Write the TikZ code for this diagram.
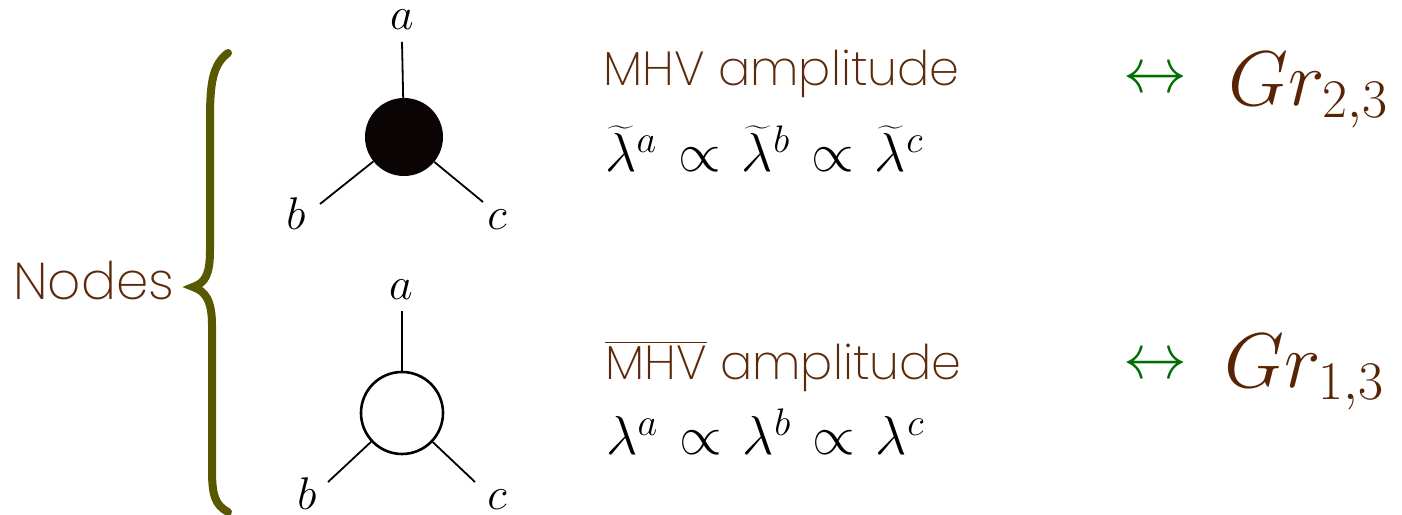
\RequirePackage{fix-cm}
\documentclass[tikz,border=0pt]{standalone}
\usepackage{amsmath}
\usepackage{fontspec}
\newfontfamily\geo{Poppins}[UprightFont=* ExtraLight]
\definecolor{txtbrown}{RGB}{92,42,10}
\definecolor{grbrown}{RGB}{88,36,4}
\definecolor{bracegreen}{RGB}{88,88,0}
\definecolor{arrgreen}{RGB}{0,110,0}
% proportionality sign with a little extra room on each side
\newcommand{\wprop}{\mskip2mu\propto\mskip2mu}
\begin{document}
\begin{tikzpicture}[x=1bp,y=1bp,
  vtx/.style={circle,inner sep=0pt,minimum size=#1},
  leg/.style={line width=1.8bp},
  lbl/.style={anchor=base,inner sep=0pt,font=\fontsize{46}{50}\selectfont},
  words/.style={anchor=base west,inner sep=0pt,text=txtbrown,font=\fontsize{48}{52}\selectfont\geo},
  eqn/.style={anchor=base west,inner sep=0pt,font=\fontsize{55}{60}\selectfont},
  corr/.style={inner sep=0pt,text=arrgreen,font=\fontsize{64}{70}\selectfont},
  grass/.style={anchor=base west,inner sep=0pt,text=grbrown,font=\fontsize{78}{82}\selectfont}]
\fill[white] (0,0) rectangle (1402,515);
\useasboundingbox (0,0) rectangle (1402,515);

% brace
\draw[bracegreen,line width=8bp,line cap=round]
  (228,462) .. controls (212,450) and (210,430) .. (210,395) -- (210,265)
  .. controls (210,240) and (205,232) .. (193,228)
  .. controls (205,224) and (212,215) .. (212,190) -- (212,45)
  .. controls (212,20) and (215,10) .. (228,3);
\node[words,font=\fontsize{52}{56}\selectfont\geo] (nodes) at (13,215) {Nodes};

% black trivalent vertex
\node[vtx=78bp,fill={rgb,255:red,10;green,4;blue,4}] (B) at (404,378) {};
\coordinate (Ba) at (402,473);
\coordinate (Bb) at (320,311);
\coordinate (Bc) at (483,313);
\draw[leg] (Ba) -- (B);
\draw[leg] (Bb) -- (B);
\draw[leg] (Bc) -- (B);
\node[lbl] (la1) at (402,485) {$a$};
\node[lbl] (lb1) at (296,285) {$b$};
\node[lbl] (lc1) at (497,285) {$c$};

% white trivalent vertex
\node[vtx=82bp,draw,line width=2.6bp,fill=white] (W) at (402,102) {};
\coordinate (Wa) at (402,204);
\coordinate (Wb) at (328,33);
\coordinate (Wc) at (475,33);
\draw[leg] (Wa) -- (W);
\draw[leg] (Wb) -- (W);
\draw[leg] (Wc) -- (W);
\node[lbl] (la2) at (401,215) {$a$};
\node[lbl] (lb2) at (307,5) {$b$};
\node[lbl] (lc2) at (497,5) {$c$};

% descriptions
\node[words] (mhv) at (603,429) {MHV amplitude};
\node[eqn] (eq1) at (605,343) {$\widetilde{\lambda}^a\wprop\widetilde{\lambda}^b\wprop\widetilde{\lambda}^c$};
\node[words] (mhvbar) at (605,135) {$\overline{\hbox{\geo MHV}}$ amplitude};
\node[eqn] (eq2) at (606,60) {$\lambda^a\wprop\lambda^b\wprop\lambda^c$};

% Grassmannians
\node[corr] (arr1) at (1155,434) {$\leftrightarrow$};
\node[grass] (gr1) at (1228,409) {$Gr_{2,3}$};
\node[corr] (arr2) at (1155,148) {$\leftrightarrow$};
\node[grass] (gr2) at (1224,127) {$Gr_{1,3}$};
\end{tikzpicture}
\end{document}
